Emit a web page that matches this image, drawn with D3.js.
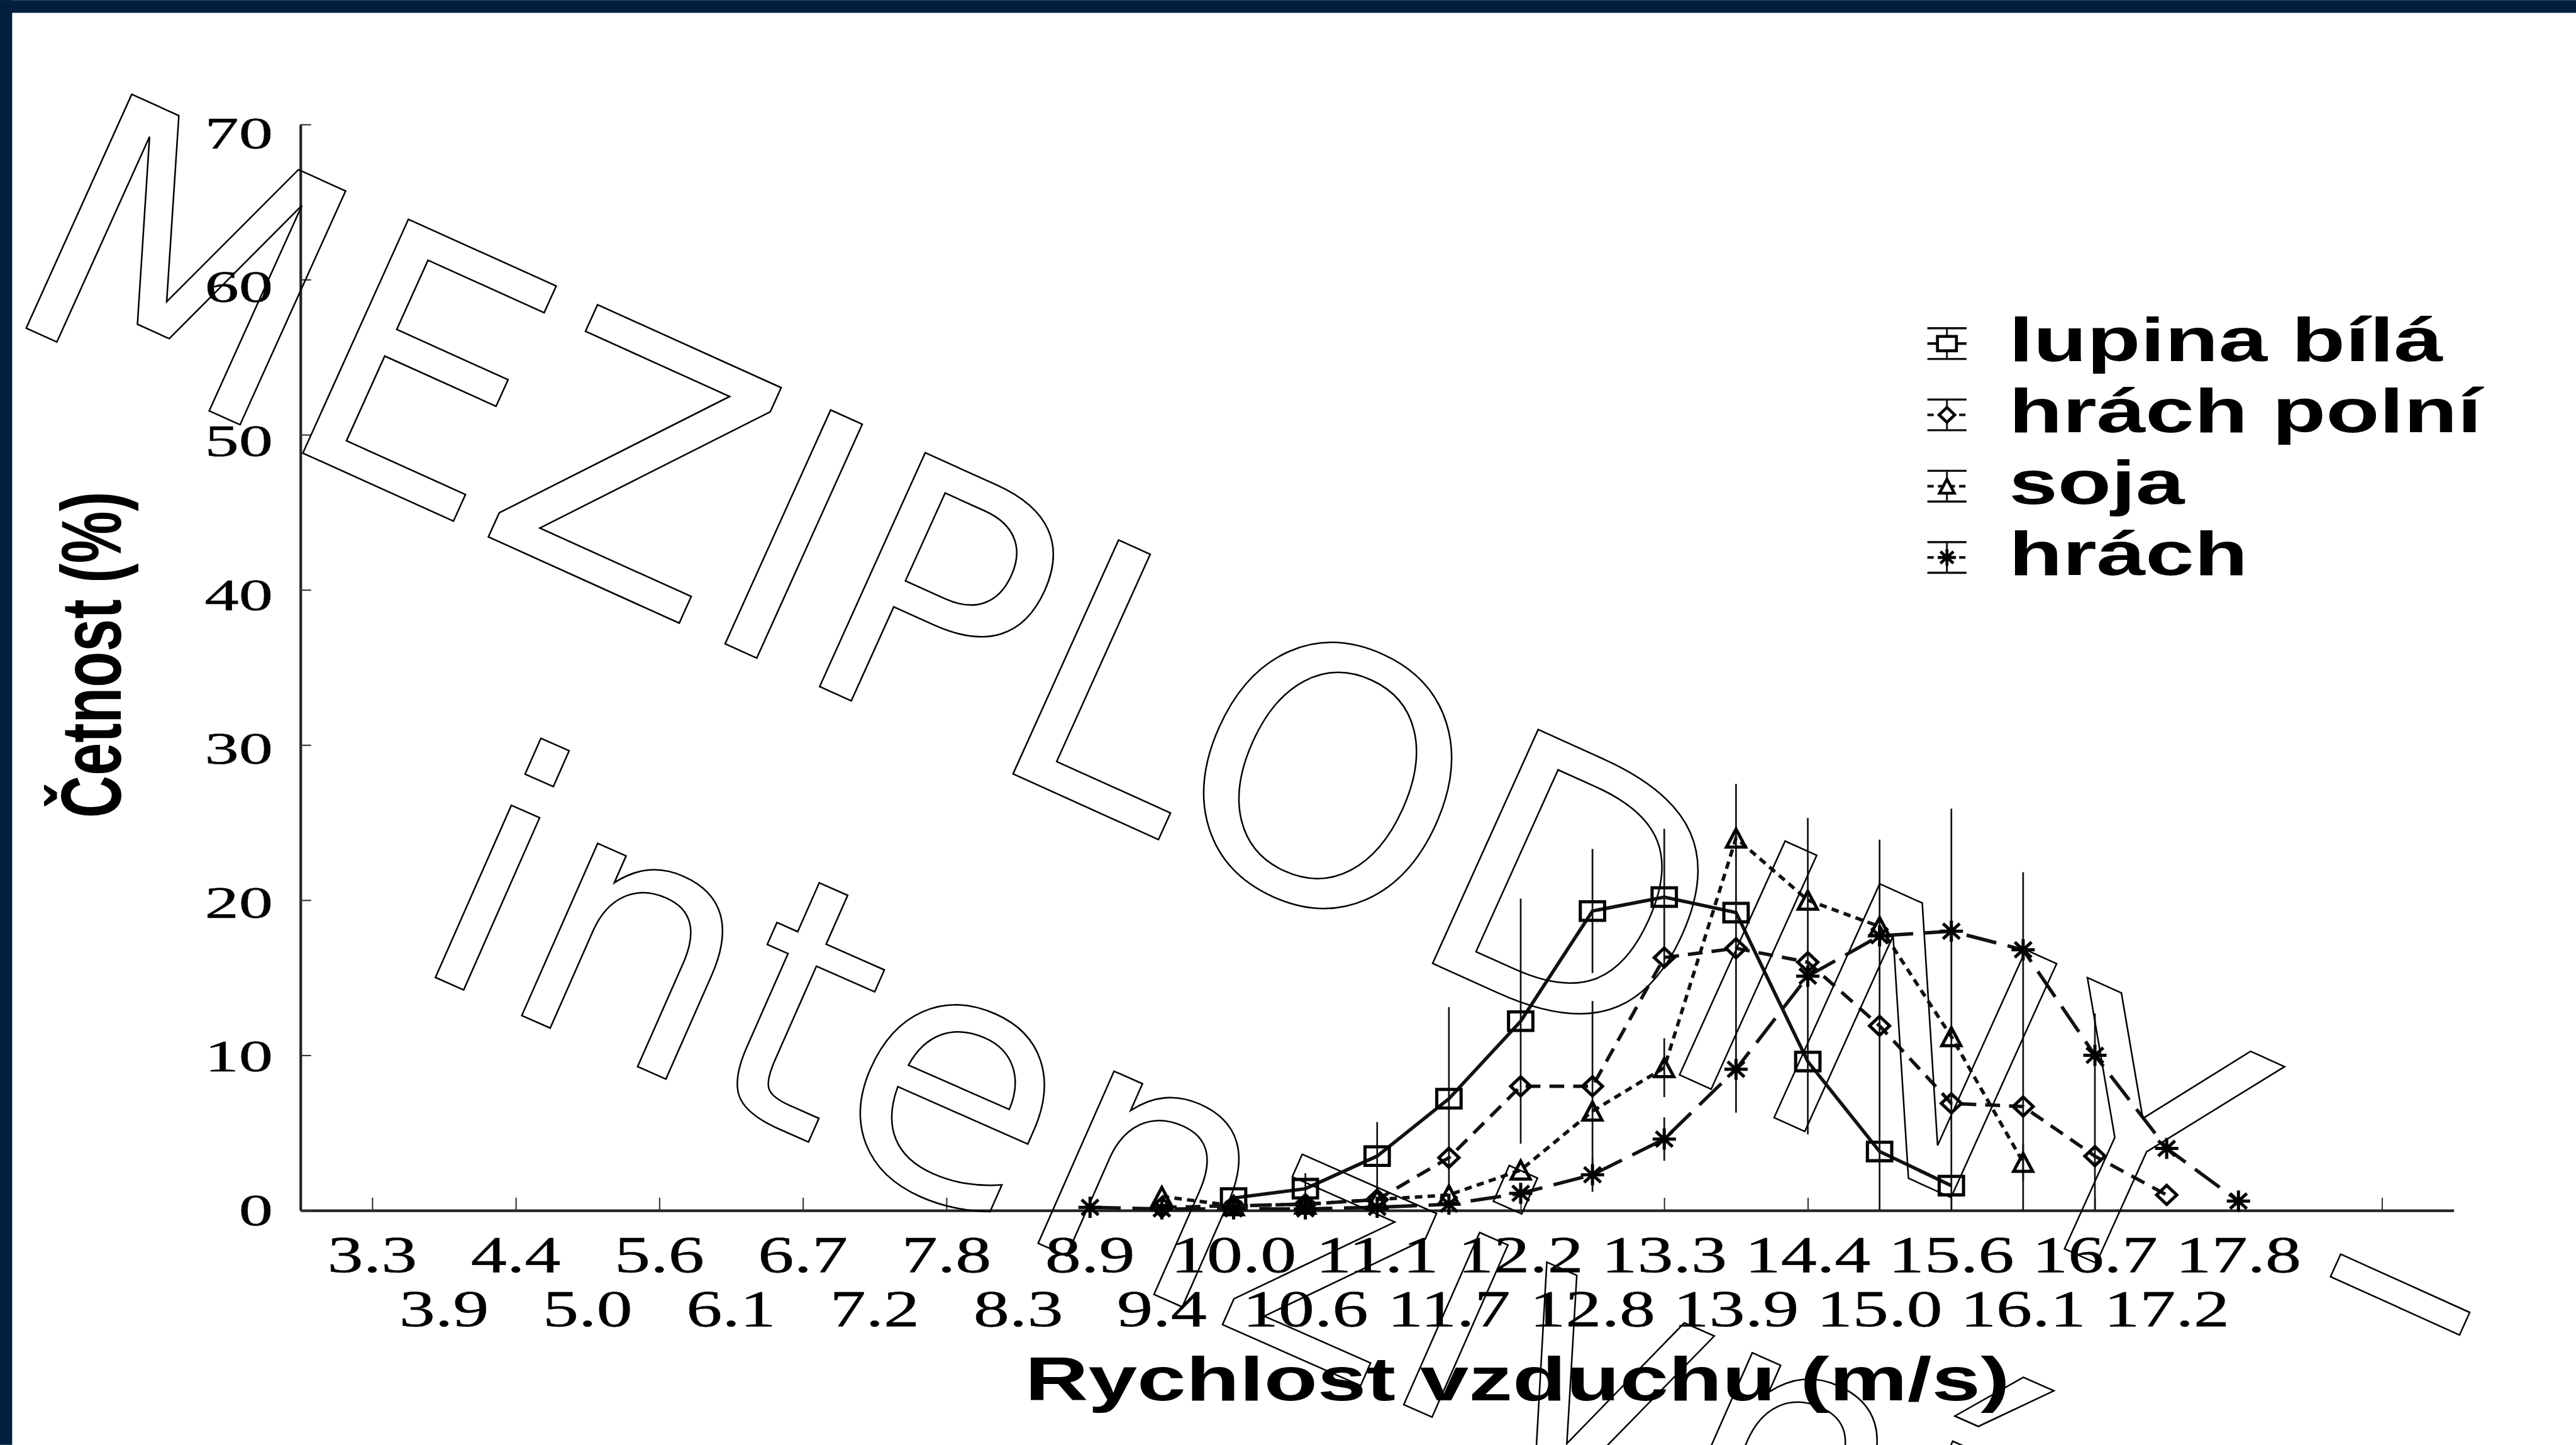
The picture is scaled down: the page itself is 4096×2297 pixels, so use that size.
<!DOCTYPE html>
<html>
<head>
<meta charset="utf-8">
<script src="https://cdn.jsdelivr.net/npm/d3@7"></script>
<style>
html, body { margin: 0; padding: 0; background: #fff; overflow: hidden; }
svg { display: block; }
</style>
</head>
<body>
<div id="chart"></div>
<script>
// air speed classes (m/s), one per category on the x axis
const speeds = ["3.3","3.9","4.4","5.0","5.6","6.1","6.7","7.2","7.8","8.3","8.9","9.4","10.0","10.6",
  "11.1","11.7","12.2","12.8","13.3","13.9","14.4","15.0","15.6","16.1","16.7","17.2","17.8"];

// frequencies (%) per speed class, null = not measured
const lupinaBila = [null,null,null,null,null,null,null,null,null,null,null,null,
  0.8,1.4,3.5,7.2,12.2,19.3,20.2,19.2,9.6,3.8,1.6,null,null,null,null];
const hrachPolni = [null,null,null,null,null,null,null,null,null,null,null,
  0.2,0.3,0.4,0.7,3.4,8.0,8.0,16.3,16.9,16.0,11.9,6.9,6.7,3.5,1.0,null];
const soja = [null,null,null,null,null,null,null,null,null,null,null,
  0.9,0.3,0.4,0.7,1.0,2.6,6.4,9.2,24.0,20.0,18.3,11.2,3.1,null,null,null];
const hrach = [null,null,null,null,null,null,null,null,null,null,
  0.2,0.1,0.1,0.1,0.2,0.4,1.1,2.3,4.6,9.1,15.1,17.7,18.0,16.8,10.0,4.0,0.6];

// error bars (± sd) that are visible in the figure
const lupinaBilaSd = [null,null,null,null,null,null,null,null,null,null,null,null,
  null,1.0,2.2,5.9,7.9,4.0,4.4,null,null,null,null,null,null,null,null];
const hrachPolniSd = [null,null,null,null,null,null,null,null,null,null,null,
  null,null,null,null,null,null,5.5,null,10.6,null,12.0,null,15.1,9.2,null,null];
const sojaSd = [null,null,null,null,null,null,null,null,null,null,null,
  null,null,null,null,null,null,null,1.9,null,null,null,14.7,1.2,null,null,null];
const hrachSd = [null,null,null,null,null,null,null,null,null,null,
  null,null,null,null,null,null,null,1.1,1.4,null,10.2,null,null,null,null,null,null];

const yTicks = [0,10,20,30,40,50,60,70];

const W = 4869, H = 2730;
const svg = d3.select("#chart").append("svg")
  .attr("width", 4096)
  .attr("height", 2297)
  .attr("viewBox", "0 0 " + W + " " + H);

svg.append("rect").attr("width", W).attr("height", H).attr("fill", "#fff");
svg.append("rect").attr("x", 0).attr("y", 0).attr("width", W).attr("height", 24).attr("fill", "#01203f");
svg.append("rect").attr("x", 0).attr("y", 0).attr("width", 23).attr("height", H).attr("fill", "#01203f");

const x = d3.scaleLinear().domain([-1, 29]).range([568, 4638]);
const y = d3.scaleLinear().domain([0, 70]).range([2287, 235]);
const yLab = d3.scaleLinear().domain([0, 70]).range([2285, 250]);

// axes
const gx = svg.append("g").attr("transform", "translate(0," + y(0) + ")")
  .call(d3.axisBottom(x).tickValues(d3.range(0, 29, 2)).tickSize(-24).tickSizeOuter(0).tickFormat(""));
gx.select(".domain").attr("stroke", "#222").attr("stroke-width", 5);
gx.selectAll(".tick line").attr("stroke", "#333").attr("stroke-width", 2.5);

const gy = svg.append("g").attr("transform", "translate(" + x(-1) + ",0)")
  .call(d3.axisLeft(y).tickValues(yTicks).tickSize(-20).tickSizeOuter(0).tickFormat(""));
gy.select(".domain").attr("stroke", "#222").attr("stroke-width", 5);
gy.selectAll(".tick line").attr("stroke", "#333").attr("stroke-width", 2.5);

const serif = "'Liberation Serif', 'Times New Roman', serif";
const sans = "'Liberation Sans', Arial, sans-serif";

svg.append("g").selectAll("text").data(yTicks).enter().append("text")
  .attr("transform", d => "translate(516," + yLab(d) + ") scale(1.5,1)")
  .attr("dy", "0.35em")
  .attr("text-anchor", "end")
  .attr("font-family", serif)
  .attr("font-size", 86)
  .attr("stroke", "#000").attr("stroke-width", 0.6)
  .text(d => d);

svg.append("g").selectAll("text").data(speeds).enter().append("text")
  .attr("transform", (d, i) => "translate(" + x(i) + "," + (i % 2 === 0 ? 2403 : 2505) + ") scale(1.4,1)")
  .attr("text-anchor", "middle")
  .attr("font-family", serif)
  .attr("font-size", 97)
  .attr("stroke", "#000").attr("stroke-width", 0.6)
  .text(d => d);

svg.append("text")
  .attr("transform", "translate(2868,2646) scale(1.43,1)")
  .attr("text-anchor", "middle")
  .attr("font-family", sans)
  .attr("font-weight", "bold")
  .attr("font-size", 116)
  .text("Rychlost vzduchu (m/s)");

svg.append("text")
  .attr("transform", "translate(228,1237) scale(1.45,1) rotate(-90)")
  .attr("text-anchor", "middle")
  .attr("font-family", sans)
  .attr("font-weight", "bold")
  .attr("font-size", 111)
  .text("Četnost (%)");

// marker shapes
function marker(type, w, h) {
  if (type === "square") return "M" + (-w/2) + "," + (-h/2) + "h" + w + "v" + h + "h" + (-w) + "Z";
  if (type === "diamond") return "M0," + (-h/2) + "L" + (w/2) + ",0L0," + (h/2) + "L" + (-w/2) + ",0Z";
  if (type === "triangle") return "M0," + (-h/2) + "L" + (w/2) + "," + (h/2) + "L" + (-w/2) + "," + (h/2) + "Z";
  const a = 0.36;
  return "M0," + (-h/2) + "V" + (h/2) + "M" + (-w/2) + ",0H" + (w/2) +
    "M" + (-w*a) + "," + (-h*a) + "L" + (w*a) + "," + (h*a) +
    "M" + (w*a) + "," + (-h*a) + "L" + (-w*a) + "," + (h*a);
}

const series = [
  { name: "lupina bílá", values: lupinaBila, sd: lupinaBilaSd, shape: "square", w: 46, h: 35, dash: null },
  { name: "hrách polní", values: hrachPolni, sd: hrachPolniSd, shape: "diamond", w: 38, h: 36, dash: "28,17" },
  { name: "soja", values: soja, sd: sojaSd, shape: "triangle", w: 36, h: 34, dash: "14,10" },
  { name: "hrách", values: hrach, sd: hrachSd, shape: "asterisk", w: 44, h: 40, dash: "58,22" }
];

const line = d3.line()
  .defined(d => d.v != null)
  .x(d => x(d.i))
  .y(d => y(d.v));

series.forEach(function(s) {
  const pts = s.values.map((v, i) => ({ i: i, v: v, sd: s.sd[i] }));

  svg.append("g").selectAll("line")
    .data(pts.filter(d => d.v != null && d.sd != null))
    .enter().append("line")
    .attr("x1", d => x(d.i)).attr("x2", d => x(d.i))
    .attr("y1", d => y(Math.min(70, d.v + d.sd)))
    .attr("y2", d => y(Math.max(0, d.v - d.sd)))
    .attr("stroke", "#111")
    .attr("stroke-width", 3.2);

  svg.append("path")
    .datum(pts)
    .attr("d", line)
    .attr("fill", "none")
    .attr("stroke", "#111")
    .attr("stroke-width", 6.5)
    .attr("stroke-dasharray", s.dash);

  svg.append("g").selectAll("path")
    .data(pts.filter(d => d.v != null))
    .enter().append("path")
    .attr("transform", d => "translate(" + x(d.i) + "," + y(d.v) + ")")
    .attr("d", marker(s.shape, s.w, s.h))
    .attr("fill", "none")
    .attr("stroke", "#000")
    .attr("stroke-width", 6);
});

// legend
const legend = svg.append("g");
series.forEach(function(s, k) {
  const cy = 649 + k * 134.7;
  const g = legend.append("g").attr("transform", "translate(3680," + cy + ")");
  g.append("line").attr("x1", -37).attr("x2", 37).attr("y1", 0).attr("y2", 0)
    .attr("stroke", "#111").attr("stroke-width", 5).attr("stroke-dasharray", s.dash ? "12,8" : null);
  g.append("line").attr("x1", 0).attr("x2", 0).attr("y1", -29).attr("y2", 29)
    .attr("stroke", "#111").attr("stroke-width", 3.5);
  [-29, 29].forEach(function(cap) {
    g.append("line").attr("x1", -37).attr("x2", 37).attr("y1", cap).attr("y2", cap)
      .attr("stroke", "#111").attr("stroke-width", 4);
  });
  g.append("path").attr("d", marker(s.shape, s.w * 0.78, s.h * 0.78))
    .attr("fill", "#fff").attr("stroke", "#000").attr("stroke-width", 5.5);
  legend.append("text")
    .attr("transform", "translate(3797," + (cy + 33) + ") scale(1.43,1)")
    .attr("font-family", sans)
    .attr("font-weight", "bold")
    .attr("font-size", 116)
    .text(s.name);
});

// outlined watermark on top
const mark = svg.append("g")
  .attr("font-family", "'DejaVu Sans', sans-serif")
  .attr("fill", "none")
  .attr("stroke", "#000")
  .attr("stroke-width", 3);
mark.append("text").attr("font-size", 665).attr("transform", "translate(-10,593) rotate(24.3)").text("MEZIPLODINY –");
mark.append("text").attr("font-size", 650).attr("transform", "translate(767,1822) rotate(23.8)").text("intenzivní");
</script>
</body>
</html>
